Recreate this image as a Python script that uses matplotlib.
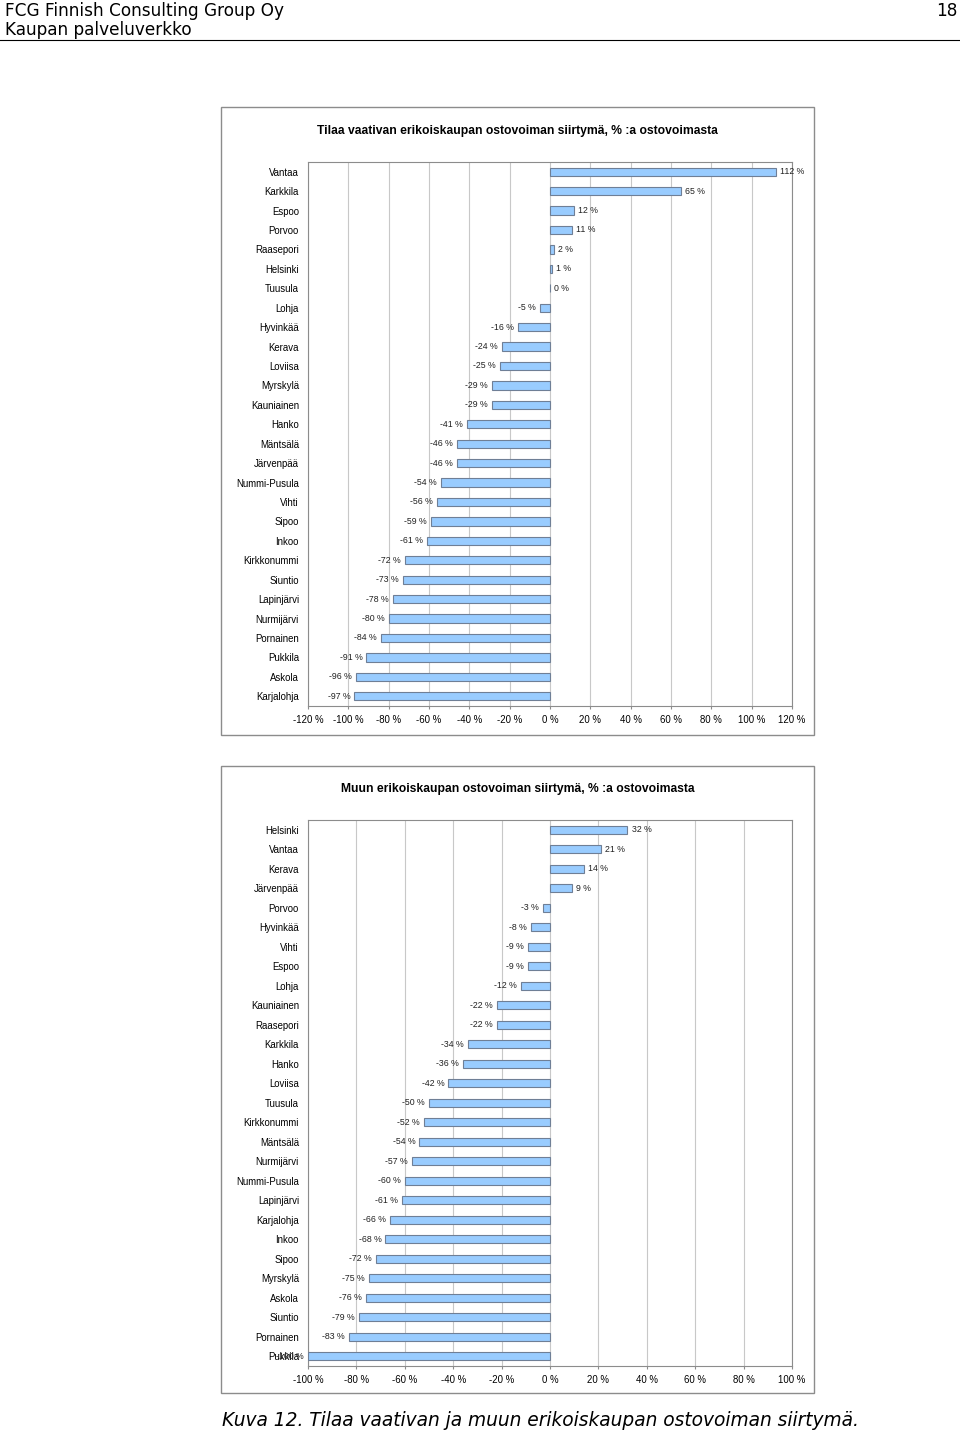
import matplotlib.pyplot as plt
from matplotlib.patches import Rectangle

# Tilaa vaativa erikoiskauppa
towns1 = ['Vantaa', 'Karkkila', 'Espoo', 'Porvoo', 'Raasepori', 'Helsinki', 'Tuusula',
          'Lohja', 'Hyvinkää', 'Kerava', 'Loviisa', 'Myrskylä', 'Kauniainen', 'Hanko',
          'Mäntsälä', 'Järvenpää', 'Nummi-Pusula', 'Vihti', 'Sipoo', 'Inkoo',
          'Kirkkonummi', 'Siuntio', 'Lapinjärvi', 'Nurmijärvi', 'Pornainen', 'Pukkila',
          'Askola', 'Karjalohja']
values1 = [112, 65, 12, 11, 2, 1, 0, -5, -16, -24, -25, -29, -29, -41, -46, -46, -54,
           -56, -59, -61, -72, -73, -78, -80, -84, -91, -96, -97]
ticks1 = list(range(-120, 121, 20))

# Muu erikoiskauppa
towns2 = ['Helsinki', 'Vantaa', 'Kerava', 'Järvenpää', 'Porvoo', 'Hyvinkää', 'Vihti',
          'Espoo', 'Lohja', 'Kauniainen', 'Raasepori', 'Karkkila', 'Hanko', 'Loviisa',
          'Tuusula', 'Kirkkonummi', 'Mäntsälä', 'Nurmijärvi', 'Nummi-Pusula',
          'Lapinjärvi', 'Karjalohja', 'Inkoo', 'Sipoo', 'Myrskylä', 'Askola', 'Siuntio',
          'Pornainen', 'Pukkila']
values2 = [32, 21, 14, 9, -3, -8, -9, -9, -12, -22, -22, -34, -36, -42, -50, -52, -54,
           -57, -60, -61, -66, -68, -72, -75, -76, -79, -83, -100]
ticks2 = list(range(-100, 101, 20))

plt.rcParams['font.family'] = ['Liberation Sans', 'DejaVu Sans']

fig = plt.figure(figsize=(9.6, 14.33), dpi=100)

# page header
fig.text(0.005, 1 - 11 / 1433, 'FCG Finnish Consulting Group Oy', fontsize=12.2,
         family='DejaVu Sans', va='center', ha='left')
fig.text(0.997, 1 - 11 / 1433, '18', fontsize=12.2, family='DejaVu Sans', va='center', ha='right')
fig.text(0.005, 1 - 30 / 1433, 'Kaupan palveluverkko', fontsize=12.2, family='DejaVu Sans',
         va='center', ha='left')
fig.add_artist(plt.Line2D([0, 1], [1 - 40 / 1433, 1 - 40 / 1433], color='black', lw=0.8))

# caption
fig.text(0.5625, 1 - 1420 / 1433, 'Kuva 12. Tilaa vaativan ja muun erikoiskaupan ostovoiman siirtymä.',
         fontsize=13.4, family='DejaVu Sans', style='italic', ha='center', va='center')


def draw_chart(frame, axpos, title, title_y, towns, values, ticks):
    fig.add_artist(Rectangle((frame[0], frame[1]), frame[2], frame[3], transform=fig.transFigure,
                             fill=False, edgecolor='#8c8c8c', lw=1.0))
    fig.text(0.539, title_y, title, fontsize=8.7, fontweight='bold', ha='center', va='center')

    ax = fig.add_axes(axpos)
    y = list(range(len(towns)))
    ax.barh(y, values, height=0.42, color='#99ccff', edgecolor='#6f7f96', linewidth=0.8, zorder=3)
    for yi, v in zip(y, values):
        if v < 0:
            ax.annotate(f'{v} %', (v, yi), xytext=(-3, 0), textcoords='offset points',
                        ha='right', va='center', fontsize=6.3, color='#222222')
        else:
            ax.annotate(f'{v} %', (v, yi), xytext=(3, 0), textcoords='offset points',
                        ha='left', va='center', fontsize=6.3, color='#222222')

    ax.set_xlim(ticks[0], ticks[-1])
    ax.set_ylim(len(towns) - 0.5, -0.5)
    ax.set_xticks(ticks)
    ax.set_xticklabels([f'{t} %' for t in ticks], fontsize=6.9)
    ax.set_yticks(y)
    ax.set_yticklabels(towns, fontsize=6.9)
    ax.tick_params(axis='y', length=0, pad=6.5)
    ax.tick_params(axis='x', length=2.5, color='#8c8c8c', pad=4)
    ax.grid(axis='x', color='#c8c8c8', lw=0.8, zorder=0)
    for s in ax.spines.values():
        s.set_color('#8c8c8c')
        s.set_linewidth(0.8)


draw_chart((221 / 960, 1 - 735 / 1433, 593 / 960, 628 / 1433),
           (308 / 960, 1 - 706 / 1433, 484 / 960, 544 / 1433),
           'Tilaa vaativan erikoiskaupan ostovoiman siirtymä, % :a ostovoimasta',
           1 - 131 / 1433, towns1, values1, ticks1)

draw_chart((221 / 960, 1 - 1393 / 1433, 593 / 960, 627 / 1433),
           (308 / 960, 1 - 1366 / 1433, 484 / 960, 546 / 1433),
           'Muun erikoiskaupan ostovoiman siirtymä, % :a ostovoimasta',
           1 - 789 / 1433, towns2, values2, ticks2)

fig.savefig('out.png', dpi=100)
